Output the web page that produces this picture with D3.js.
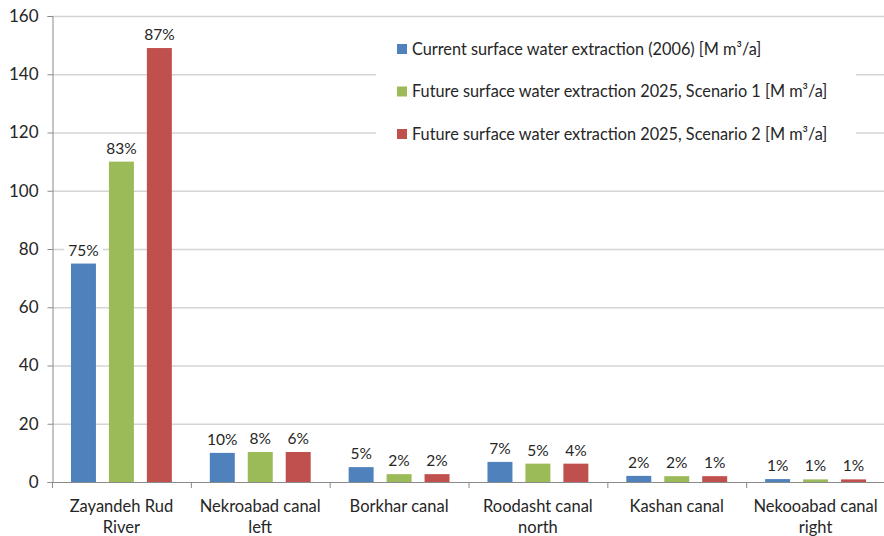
<!DOCTYPE html>
<html><head><meta charset="utf-8">
<script src="https://cdn.jsdelivr.net/npm/d3@7"></script>
<style>body{margin:0;background:#fff}svg{display:block}</style>
</head><body>
<svg id="chart" width="884" height="536"></svg>
<script>
const categories = [["Zayandeh Rud","River"],["Nekroabad canal","left"],["Borkhar canal"],["Roodasht canal","north"],["Kashan canal"],["Nekooabad canal","right"]];
const seriesNames = ["Current surface water extraction (2006) [M m³/a]","Future surface water extraction 2025, Scenario 1 [M m³/a]","Future surface water extraction 2025, Scenario 2 [M m³/a]"];
const current2006 = [75, 10, 5.1, 6.9, 2.1, 1.0];
const scenario1 = [110, 10.3, 2.7, 6.3, 2.0, 0.9];
const scenario2 = [149, 10.3, 2.7, 6.3, 2.0, 0.9];
const pctCurrent = ["75%","10%","5%","7%","2%","1%"];
const pctScen1 = ["83%","8%","2%","5%","2%","1%"];
const pctScen2 = ["87%","6%","2%","4%","1%","1%"];
const yTicks = [0,20,40,60,80,100,120,140,160];
const colors = ["#4F81BD","#9BBB59","#C0504D"];

const values = [current2006, scenario1, scenario2];
const pcts = [pctCurrent, pctScen1, pctScen2];
const svg = d3.select("#chart");
const font = "Lato, 'Open Sans', sans-serif";
const L = 52, R = 885, T = 16, B = 482;

const x0 = d3.scaleBand().domain(d3.range(categories.length)).range([L, R]);
const x1 = d3.scaleBand().domain([0,1,2]).range([0, x0.bandwidth()]).paddingInner(0.342).paddingOuter(0.5);
const y = d3.scaleLinear().domain([0,160]).range([B, T]);

// gridlines
svg.append("g").selectAll("line").data(yTicks.filter(t=>t>0)).join("line")
  .attr("x1", L).attr("x2", R).attr("y1", d=>y(d)+0.5).attr("y2", d=>y(d)+0.5)
  .attr("stroke", "#d4d4d4").attr("stroke-width", 1.3);

// y axis
const yAxis = svg.append("g").attr("transform", `translate(${L+0.5},0)`)
  .call(d3.axisLeft(y).tickValues(yTicks).tickSize(5).tickPadding(9));
yAxis.select(".domain").attr("stroke", "#8a8a8a");
yAxis.selectAll(".tick line").attr("stroke", "#8a8a8a");
yAxis.selectAll(".tick text").attr("font-family", font).attr("font-size", 17).attr("fill", "#262626");

// bars
const groups = svg.append("g").selectAll("g").data(categories).join("g")
  .attr("transform", (d,i)=>`translate(${x0(i)},0)`);
groups.each(function(c, i){
  const g = d3.select(this);
  [0,1,2].forEach(s=>{
    const v = values[s][i];
    g.append("rect").attr("x", x1(s)).attr("width", x1.bandwidth())
      .attr("y", y(v)).attr("height", B - y(v)).attr("fill", colors[s]);
    const lx = x1(s) + x1.bandwidth()/2, ly = y(v) - 8;
    const t = g.append("text").attr("x", lx).attr("y", ly).attr("text-anchor","middle")
      .attr("font-family", font).attr("font-size", 15.5).attr("fill", "#262626").text(pcts[s][i]);
    const bb = t.node().getBBox();
    g.insert("rect", "text").attr("x", bb.x-4).attr("y", bb.y-1).attr("width", bb.width+8).attr("height", bb.height+2).attr("fill","#fff");
  });
});
groups.selectAll("text").raise();

// x axis
const xAxisG = svg.append("g");
xAxisG.append("line").attr("x1", L).attr("x2", R).attr("y1", B+0.5).attr("y2", B+0.5).attr("stroke", "#8a8a8a");
xAxisG.selectAll("line.tk").data(d3.range(categories.length+1)).join("line").attr("class","tk")
  .attr("x1", i=>L + i*x0.step()+0.5).attr("x2", i=>L + i*x0.step()+0.5)
  .attr("y1", B).attr("y2", B+6).attr("stroke", "#8a8a8a");
xAxisG.selectAll("text.cat").data(categories).join("text").attr("class","cat")
  .attr("font-family", font).attr("font-size", 16.5).attr("fill", "#262626").attr("text-anchor","middle")
  .each(function(lines, i){
    const t = d3.select(this);
    lines.forEach((ln, k)=>{
      t.append("tspan").attr("x", x0(i)+x0.bandwidth()/2).attr("y", 512 + k*21).text(ln);
    });
  });

// legend
const lg = svg.append("g");
lg.append("rect").attr("x", 376).attr("y", 30).attr("width", 480).attr("height", 122).attr("fill", "#fff");
seriesNames.forEach((n, s)=>{
  const cy = 49 + s*42.5;
  lg.append("rect").attr("x", 397).attr("y", cy-5).attr("width", 10).attr("height", 10).attr("fill", colors[s]);
  lg.append("text").attr("x", 412).attr("y", cy+5.5).attr("font-family", font).attr("font-size", 16.3)
    .attr("fill", "#262626").text(n);
});
</script>
</body></html>
